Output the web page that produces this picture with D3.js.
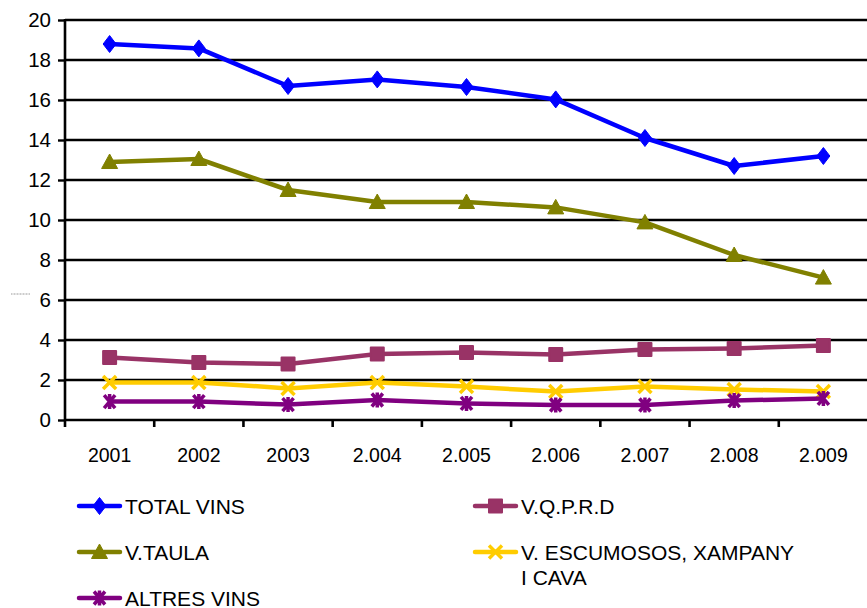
<!DOCTYPE html>
<html><head><meta charset="utf-8">
<script src="https://cdn.jsdelivr.net/npm/d3@7/dist/d3.min.js"></script>
<style>body{margin:0;background:#fff}svg{display:block}text{font-family:"Liberation Sans",Arial,sans-serif;fill:#000}</style>
</head><body><svg id="c" width="867" height="608"></svg>
<script>
const years = ["2001","2002","2003","2.004","2.005","2.006","2.007","2.008","2.009"];
const yTicks = [0,2,4,6,8,10,12,14,16,18,20];
const totalVins = [18.8,18.58,16.7,17.03,16.65,16.03,14.1,12.7,13.2];
const vTaula = [12.9,13.05,11.5,10.9,10.9,10.63,9.88,8.25,7.12];
const vqprd = [3.13,2.87,2.8,3.3,3.37,3.28,3.53,3.58,3.72];
const escumosos = [1.88,1.88,1.58,1.88,1.67,1.42,1.67,1.53,1.42];
const altres = [0.92,0.92,0.77,1.0,0.83,0.75,0.75,0.97,1.08];
const seriesNames = ["TOTAL VINS","V.Q.P.R.D","V.TAULA","V. ESCUMOSOS, XAMPANY I CAVA","ALTRES VINS"];

const S = {
  total:{name:seriesNames[0], values:totalVins, color:"#0000FF", marker:"diamond"},
  taula:{name:seriesNames[2], values:vTaula, color:"#808000", marker:"triangle"},
  vqprd:{name:seriesNames[1], values:vqprd, color:"#993366", marker:"square"},
  esc:{name:seriesNames[3], values:escumosos, color:"#FFCC00", marker:"x"},
  altres:{name:seriesNames[4], values:altres, color:"#800080", marker:"star"}
};
const drawOrder = [S.total,S.taula,S.vqprd,S.esc,S.altres];

const svg = d3.select("#c");
const pL = 65, pR = 868, pT = 20, pB = 420;
const x = d3.scaleBand().domain(years).range([pL,pR]);
const y = d3.scaleLinear().domain([0,20]).range([pB,pT]);

// gridlines
svg.append("g").selectAll("line").data(yTicks.filter(d=>d>0)).join("line")
  .attr("x1",pL).attr("x2",867).attr("y1",d=>y(d)).attr("y2",d=>y(d))
  .attr("stroke","#000").attr("stroke-width",2.4);

// y axis
const ya = svg.append("g").attr("transform",`translate(${pL},0)`)
  .call(d3.axisLeft(y).tickValues(yTicks).tickSize(7).tickPadding(7).tickFormat(d3.format("d")));
ya.select(".domain").remove();
ya.selectAll(".tick line").attr("stroke","#000").attr("stroke-width",2.4);
ya.selectAll(".tick text").attr("font-size",20.5).attr("font-family","Liberation Sans, Arial, sans-serif").attr("fill","#000");
svg.append("line").attr("x1",pL).attr("x2",pL).attr("y1",pT-1).attr("y2",pB+7)
  .attr("stroke","#000").attr("stroke-width",2.6);

// x axis
svg.append("line").attr("x1",pL).attr("x2",867).attr("y1",pB).attr("y2",pB)
  .attr("stroke","#000").attr("stroke-width",2.6);
svg.append("g").selectAll("line").data(years.slice(1)).join("line")
  .attr("x1",d=>x(d)).attr("x2",d=>x(d)).attr("y1",pB).attr("y2",pB+7)
  .attr("stroke","#000").attr("stroke-width",2.6);
svg.append("g").selectAll("text").data(years).join("text")
  .attr("x",d=>x(d)+x.bandwidth()/2).attr("y",pB+42).attr("text-anchor","middle")
  .attr("font-size",19.5).text(d=>d);

// odd tiny mark
svg.append("line").attr("x1",11).attr("x2",30).attr("y1",294).attr("y2",294)
  .attr("stroke","#999").attr("stroke-width",1).attr("stroke-dasharray","1,0.5");

function markerPath(type){
  switch(type){
    case "diamond": return "M0,-8.5L6.5,0L0,8.5L-6.5,0Z";
    case "triangle": return "M0,-8L8,6.5L-8,6.5Z";
    case "square": return "M-6.5,-6.5H6.5V6.5H-6.5Z";
    case "x": return "M-6.5,-6.5L6.5,6.5M6.5,-6.5L-6.5,6.5";
    case "star": return "M-5.5,-6.5L5.5,6.5M5.5,-6.5L-5.5,6.5M0,-7.5V7.5";
  }
}
function drawMarker(g, type, color){
  const filled = type==="diamond"||type==="triangle"||type==="square";
  const p = g.append("path").attr("d",markerPath(type));
  if(filled){ p.attr("fill",color).attr("stroke",color).attr("stroke-width",type==="square"?2:1).attr("stroke-linejoin","round"); }
  else { p.attr("fill","none").attr("stroke",color).attr("stroke-width",3.5); }
}

const line = d3.line().x((d,i)=>x(years[i])+x.bandwidth()/2).y(d=>y(d));
drawOrder.forEach(s=>{
  svg.append("path").attr("d",line(s.values)).attr("fill","none")
    .attr("stroke",s.color).attr("stroke-width",4.5).attr("stroke-linejoin","round");
  s.values.forEach((v,i)=>{
    const g = svg.append("g").attr("transform",`translate(${x(years[i])+x.bandwidth()/2},${y(v)})`);
    drawMarker(g,s.marker,s.color);
  });
});

// legend
const legendItems = [
  {s:S.total, lx:79, ly:506, lines:["TOTAL VINS"]},
  {s:S.vqprd, lx:475, ly:506, lines:["V.Q.P.R.D"]},
  {s:S.taula, lx:79, ly:552, lines:["V.TAULA"]},
  {s:S.esc, lx:475, ly:552, lines:["V. ESCUMOSOS, XAMPANY","I CAVA"]},
  {s:S.altres, lx:79, ly:598, lines:["ALTRES VINS"]}
];
legendItems.forEach(it=>{
  const g = svg.append("g");
  g.append("line").attr("x1",it.lx).attr("x2",it.lx+41).attr("y1",it.ly).attr("y2",it.ly)
    .attr("stroke",it.s.color).attr("stroke-width",4.5).attr("stroke-linecap","round");
  const mg = g.append("g").attr("transform",`translate(${it.lx+20.5},${it.ly})`);
  drawMarker(mg,it.s.marker,it.s.color);
  it.lines.forEach((t,k)=>{
    g.append("text").attr("x",it.lx+46).attr("y",it.ly+7.5+k*25).attr("font-size",21).text(t);
  });
});
</script></body></html>
